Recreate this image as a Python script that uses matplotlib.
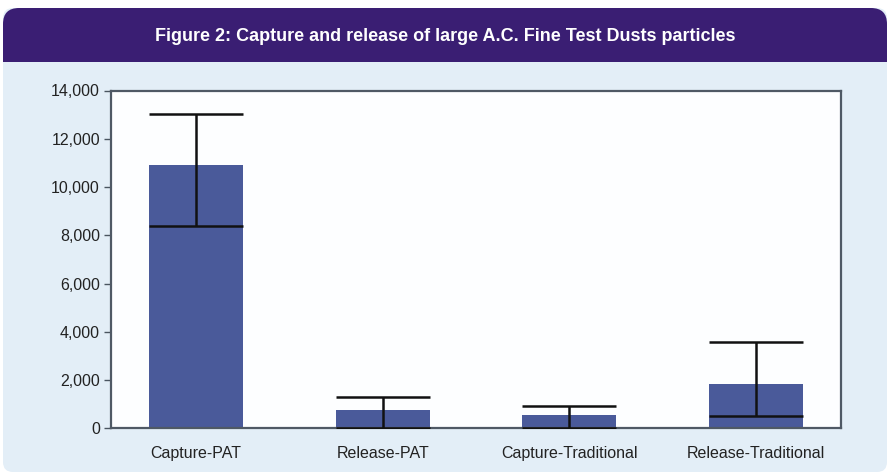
import numpy as np
import matplotlib
matplotlib.use("Agg")
import matplotlib.pyplot as plt
from matplotlib.patches import FancyBboxPatch, Rectangle

plt.rcParams['font.family'] = ['Liberation Sans Narrow', 'Liberation Sans', 'DejaVu Sans']

# data
categories = ["Capture-PAT", "Release-PAT", "Capture-Traditional", "Release-Traditional"]
values = [10900, 760, 550, 1840]
err_low = [2500, 760, 550, 1330]
err_high = [2130, 550, 390, 1740]
yticks = [0, 2000, 4000, 6000, 8000, 10000, 12000, 14000]

W, H = 890, 474
fig = plt.figure(figsize=(W / 100, H / 100), dpi=100)
fig.patch.set_facecolor("white")

# background panel + header band, drawn in pixel coords
bg = fig.add_axes([0, 0, 1, 1])
bg.set_xlim(0, W)
bg.set_ylim(H, 0)
bg.axis("off")
bg.add_patch(FancyBboxPatch((3, 8), 884, 464, boxstyle="round,pad=0,rounding_size=10",
                            fc="#e3eef7", ec="none"))
bg.add_patch(FancyBboxPatch((3, 8), 884, 54, boxstyle="round,pad=0,rounding_size=16",
                            fc="#3a1e73", ec="none"))
bg.add_patch(Rectangle((3, 35), 884, 27, fc="#3a1e73", ec="none"))
bg.text(W / 2, 36, "Figure 2: Capture and release of large A.C. Fine Test Dusts particles",
        color="white", fontsize=13, fontweight="bold", ha="center", va="center")

left, right, top, bottom = 111, 841, 90.5, 428.3
ax = fig.add_axes([left / W, (H - bottom) / H, (right - left) / W, (bottom - top) / H])
ax.set_facecolor("#fdfeff")

x = np.arange(len(categories))
ax.bar(x, values, width=0.505, color="#4a5a9a", zorder=2)
ax.errorbar(x, values, yerr=[err_low, err_high], fmt="none", ecolor="#111111",
            elinewidth=1.8, capsize=33.8, capthick=1.8, zorder=3)

ax.set_xlim(-0.456, 3.456)
ax.set_ylim(0, 14000)
ax.set_yticks(yticks)
ax.set_yticklabels([f"{v:,}" for v in yticks])
ax.set_xticks(x)
ax.set_xticklabels(categories)
ax.tick_params(axis="y", length=5, width=1, color="#4a5560", labelsize=11.5,
               labelcolor="#222222", pad=3)
ax.tick_params(axis="x", length=0, labelsize=11.5, labelcolor="#222222", pad=13)
for s in ax.spines.values():
    s.set_color("#4f5965")
    s.set_linewidth(1.6)

fig.savefig("out.png", dpi=100)
